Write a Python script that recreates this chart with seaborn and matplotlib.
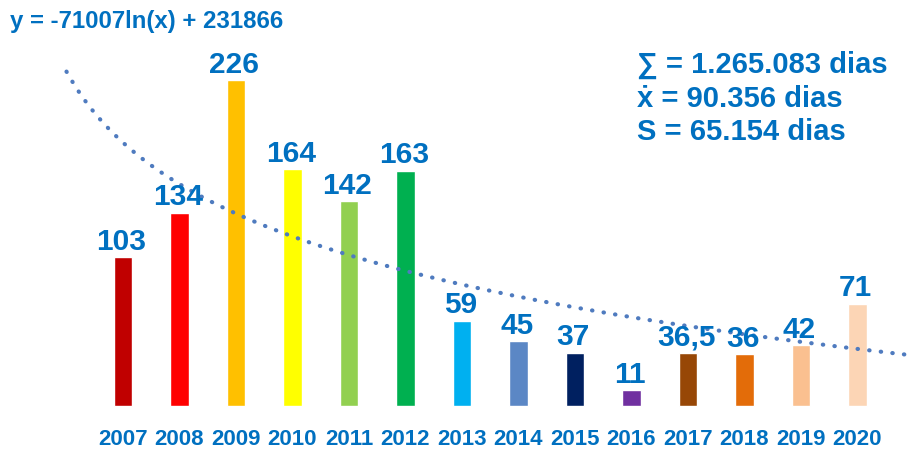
import numpy as np
import pandas as pd
import seaborn as sns
import matplotlib.pyplot as plt

years = ['2007', '2008', '2009', '2010', '2011', '2012', '2013',
         '2014', '2015', '2016', '2017', '2018', '2019', '2020']
values = [103, 134, 226, 164, 142, 163, 59, 45, 37, 11, 36.5, 36, 42, 71]
labels = ['103', '134', '226', '164', '142', '163', '59',
          '45', '37', '11', '36,5', '36', '42', '71']
colors = ['#C00000', '#FF0000', '#FFC000', '#FFFF00', '#92D050', '#00B050', '#00B0F0',
          '#5B87C5', '#002060', '#7030A0', '#974706', '#E36C09', '#FAC090', '#FCD5B5']

# trend line y = -71007 ln(x) + 231866 (in thousands)
trend_a, trend_b = -71.007, 231.866
equation = 'y = -71007ln(x) + 231866'
stats = ['∑ = 1.265.083 dias', 'ẋ = 90.356 dias', 'S = 65.154 dias']

blue = '#0070C0'
sns.set_style('white')
plt.rcParams['font.family'] = ['Liberation Sans', 'DejaVu Sans']

df = pd.DataFrame({'year': years, 'value': values})

fig = plt.figure(figsize=(9.15, 4.49), dpi=100)
ax = fig.add_axes([0, 0, 1, 1])
sns.barplot(data=df, x='year', y='value', hue='year', palette=colors,
            width=0.32, legend=False, ax=ax, saturation=1)

# trend (x = 1 lands one category before 2007)
xs = np.linspace(-1, 14.02, 300)
ax.plot(xs, trend_a * np.log(xs + 2) + trend_b, linestyle=(0, (0.1, 2.7)),
        dash_capstyle='round', color='#4F7BBF', linewidth=3)

for i, (v, lab) in enumerate(zip(values, labels)):
    ax.text(i - 0.03, v + 1.0, lab, ha='center', va='bottom', fontsize=21.5,
            fontweight='bold', color=blue)
    ax.text(i, -23.5, years[i], ha='center', va='center', fontsize=16,
            fontweight='bold', color=blue)

fig.text(0.011, 0.952, equation, fontsize=17.3, fontweight='bold', color=blue,
         ha='left', va='center')
for k, s in enumerate(stats):
    fig.text(0.696, 0.855 - k * 0.0745, s, fontsize=21, fontweight='bold',
             color=blue, ha='left', va='center')

ax.set_xlim(-2.177, 14.018)
ax.set_ylim(-29.8, 281.5)
ax.axis('off')

fig.savefig('out.png', dpi=100)
